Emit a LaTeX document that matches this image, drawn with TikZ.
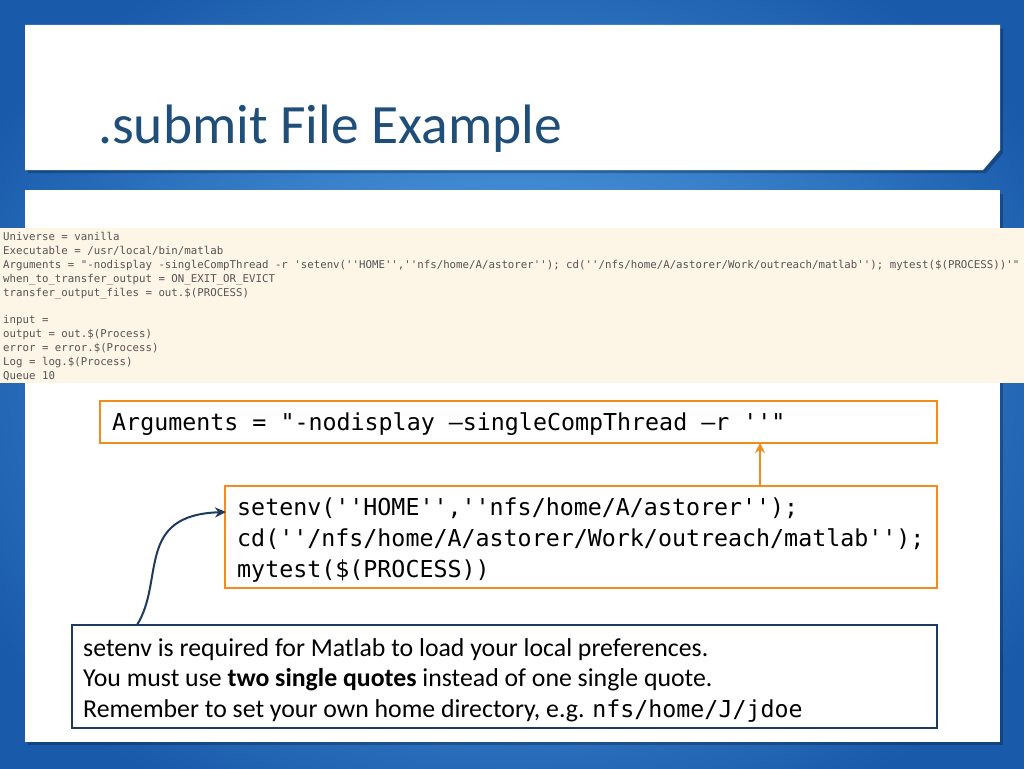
\documentclass[tikz,border=0pt]{standalone}
\usepackage{fontspec}
\setmainfont{Carlito}
\setmonofont{DejaVu Sans Mono}
\usetikzlibrary{arrows.meta}
\definecolor{navy}{HTML}{1F3A5F}
\definecolor{titleblue}{HTML}{1F4E79}
\definecolor{orng}{HTML}{F28C1C}
\definecolor{beige}{HTML}{FDF5E6}
\definecolor{codegray}{HTML}{555555}
\tikzset{
  card/.style={fill=white,draw=none},
  obox/.style={draw=orng,line width=2pt,fill=white},
  nbox/.style={draw=navy,line width=2pt,fill=white},
  codeline/.style={anchor=base west,inner sep=0pt,font=\ttfamily\fontsize{10.75}{12}\selectfont,text=codegray},
}
\begin{document}
\begin{tikzpicture}[x=1pt,y=-1pt]
\useasboundingbox (0,0) rectangle (1024,768);
\shade[inner color={rgb,255:red,90;green,170;blue,235},outer color={rgb,255:red,25;green,90;blue,170}] (-100,-100) rectangle (1124,868);
% cards
\fill[black,opacity=0.25] (28,29) -- (1003,29) -- (1003,153) -- (986,173) -- (28,173) -- cycle;
\fill[card] (25,25) -- (1000,25) -- (1000,150) -- (983,170) -- (25,170) -- cycle;
\fill[black,opacity=0.25] (28,194) rectangle (1003,745);
\fill[card] (25,190) rectangle (1000,742);
\node[anchor=base west,inner sep=0pt,text=titleblue,font=\fontsize{55.5}{60}\selectfont] (title) at (98,143) {.submit File Example};
% code block
\fill[beige] (0,228) rectangle (1024,383);
\node[codeline] (c1) at (3,240) {Universe = vanilla};
\node[codeline] (c2) at (3,254) {Executable = /usr/local/bin/matlab};
\node[codeline] (c3) at (3,268) {Arguments = "-nodisplay -singleCompThread -r 'setenv(''HOME'',''nfs/home/A/astorer''); cd(''/nfs/home/A/astorer/Work/outreach/matlab''); mytest(\$(PROCESS))'"};
\node[codeline] (c4) at (3,282) {when\_to\_transfer\_output = ON\_EXIT\_OR\_EVICT};
\node[codeline] (c5) at (3,296) {transfer\_output\_files = out.\$(PROCESS)};
\node[codeline] (c6) at (3,323) {input =};
\node[codeline] (c7) at (3,337) {output = out.\$(Process)};
\node[codeline] (c8) at (3,351) {error = error.\$(Process)};
\node[codeline] (c9) at (3,365) {Log = log.\$(Process)};
\node[codeline] (c10) at (3,379) {Queue 10};
% boxes
\draw[obox] (100,401) rectangle (937,443);
\node[anchor=base west,inner sep=0pt,font=\ttfamily\fontsize{23.3}{26}\selectfont] (args) at (112,430) {Arguments = "-nodisplay –singleCompThread –r ''"};
\coordinate (b1) at (760,443);
\draw[obox] (225,486) rectangle (937,588);
\coordinate (b2top) at (760,486);
\coordinate (b2left) at (226,512);
\node[anchor=north west,inner sep=0pt,align=left,font=\ttfamily\fontsize{23.3}{31}\selectfont] (setenv) at (237,498) {setenv(''HOME'',''nfs/home/A/astorer'');\\cd(''/nfs/home/A/astorer/Work/outreach/matlab'');\\mytest(\$(PROCESS))};
\draw[nbox] (72,625) rectangle (937,728);
\coordinate (nb) at (137,625);
\node[anchor=north west,inner sep=0pt,align=left,font=\fontsize{25.8}{30.5}\selectfont] (note) at (83,638) {setenv is required for Matlab to load your local preferences.\\You must use \textbf{two single quotes} instead of one single quote.\\Remember to set your own home directory, e.g. {\ttfamily\fontsize{23.3}{24}\selectfont nfs/home/J/jdoe}};
% arrows
\draw[orng,line width=2pt,-{Stealth[length=10pt,width=10pt]}] (b2top) -- (b1);
\draw[navy,line width=2pt,-{Stealth[length=11pt,width=10pt]}] (nb) .. controls (165,580) and (135,515) .. (b2left);
\end{tikzpicture}
\end{document}
